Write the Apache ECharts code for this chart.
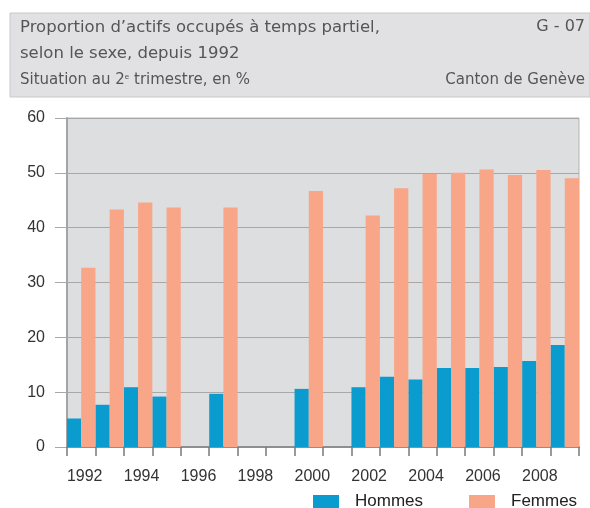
<!DOCTYPE html>
<html>
<head>
<meta charset="utf-8">
<script src="https://cdn.jsdelivr.net/npm/echarts@6.0.0/dist/echarts.min.js"></script>
<style>
  html, body { margin: 0; padding: 0; background: #fff; }
  #chart { width: 590px; height: 508px; }
</style>
</head>
<body>
<div id="chart"></div>
<script>
const years = ['1992', '1993', '1994', '1995', '1996', '1997', '1998', '1999', '2000',
  '2001', '2002', '2003', '2004', '2005', '2006', '2007', '2008', '2009']
const hommes = [5.2, 7.7, 10.9, 9.2, null, 9.7, null, null, 10.6,
  null, 10.9, 12.8, 12.3, 14.4, 14.4, 14.6, 15.7, 18.6]
const femmes = [32.7, 43.3, 44.6, 43.7, null, 43.7, null, null, 46.7,
  null, 42.2, 47.2, 49.8, 50.0, 50.6, 49.6, 50.5, 49.0]
const yTicks = [0, 10, 20, 30, 40, 50, 60]

const font = 'Liberation Sans'
const headFont = 'DejaVu Sans'
const chart = echarts.init(document.getElementById('chart'))

chart.setOption({
  animation: false,
  graphic: [
    // header box
    { type: 'rect', shape: { x: 10, y: 13, width: 580, height: 84 },
      style: { fill: '#e1e1e3', stroke: '#c9c9cb', lineWidth: 1 } },
    { type: 'text', left: 20, top: 19,
      style: { text: 'Proportion d\u2019actifs occupés à temps partiel,', fill: '#555', font: '16.5px ' + headFont } },
    { type: 'text', left: 20, top: 45,
      style: { text: 'selon le sexe, depuis 1992', fill: '#555', font: '16.5px ' + headFont } },
    { type: 'text', right: 5, top: 19,
      style: { text: 'G - 07', fill: '#555', font: '16px ' + headFont } },
    { type: 'text', left: 20, top: 73,
      style: { text: 'Situation au 2{s|e} trimestre, en %', fill: '#555', font: '15px ' + headFont,
        rich: { s: { fontSize: 8, verticalAlign: 'top', fill: '#555', padding: [0, 0, 6, 0] } } } },
    { type: 'text', right: 5, top: 73,
      style: { text: 'Canton de Genève', fill: '#555', font: '15px ' + headFont } }
  ],
  grid: {
    left: 67, right: 11, top: 118, bottom: 61,
    show: true, backgroundColor: '#dddee0', borderColor: '#b4b4b4', borderWidth: 1
  },
  legend: {
    left: 313, top: 493, padding: 0,
    itemWidth: 26, itemHeight: 13, itemGap: 46,
    icon: 'rect',
    textStyle: { fontFamily: font, fontSize: 17, color: '#222', padding: [0, 0, 0, 11] },
    data: ['Hommes', 'Femmes']
  },
  xAxis: {
    type: 'category',
    data: years,
    axisLine: { lineStyle: { color: '#8f8f8f', width: 2 } },
    axisTick: { show: true, interval: 0, length: 9, lineStyle: { color: '#7a7a7a', width: 1.5 } },
    axisLabel: { interval: 1, margin: 22, padding: [0, 0, 0, 7], fontFamily: font, fontSize: 16, color: '#333' }
  },
  yAxis: {
    type: 'value',
    min: yTicks[0], max: yTicks[yTicks.length - 1], interval: 10,
    axisLine: { show: true, lineStyle: { color: '#a4a4a4', width: 2 } },
    axisTick: { show: true, length: 12, lineStyle: { color: '#a8a8a8' } },
    axisLabel: { margin: 22, fontFamily: font, fontSize: 16, color: '#333' },
    splitLine: { lineStyle: { color: '#a8a8a8' } }
  },
  series: [
    {
      name: 'Hommes', type: 'bar', data: hommes,
      barGap: '0%', barCategoryGap: '0%',
      itemStyle: { color: '#0a9bcf' }
    },
    {
      name: 'Femmes', type: 'bar', data: femmes,
      barGap: '0%', barCategoryGap: '0%',
      itemStyle: { color: '#f9a587' }
    }
  ]
})
</script>
</body>
</html>
